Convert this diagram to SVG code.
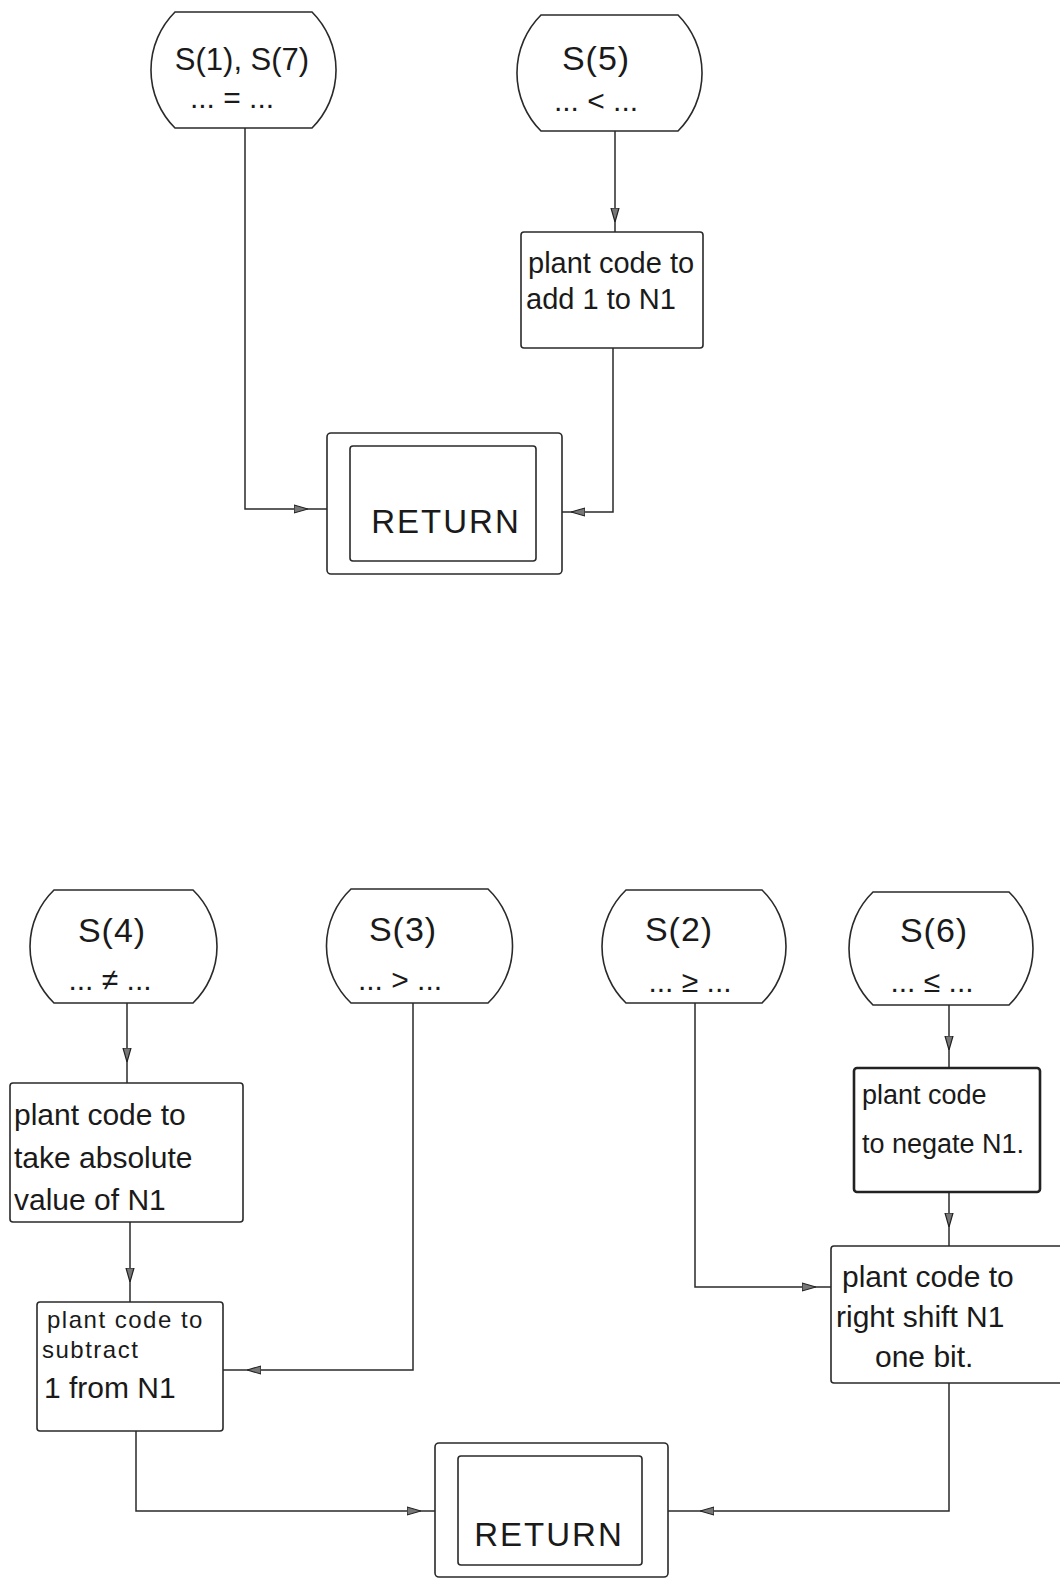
<svg xmlns="http://www.w3.org/2000/svg" width="1060" height="1580" viewBox="0 0 1060 1580">
<style>
.shape{fill:none;stroke:#2a2a2a;stroke-width:1.6}
.thick{fill:none;stroke:#222;stroke-width:2.6}
.conn{fill:none;stroke:#2a2a2a;stroke-width:1.5}
.t{font-family:"Liberation Sans","DejaVu Sans",sans-serif;fill:#1a1a1a}
.h{font-size:31px}
.n{font-size:34px;letter-spacing:1px}
.d{font-size:30px}
.b{font-size:29px}
.c{font-size:30px}
.s{font-size:27px}
.x{font-size:24px;letter-spacing:1.5px}
.r{font-size:33px;letter-spacing:2px}
</style>
<defs>
<marker id="arr" viewBox="0 0 14 10" refX="14" refY="5" markerWidth="14" markerHeight="10" markerUnits="userSpaceOnUse" orient="auto">
<path d="M0,1 L14,5 L0,9 Z" fill="#777" stroke="#222" stroke-width="1.2"/>
</marker>
</defs>
<rect width="1060" height="1580" fill="#ffffff"/>

<g id="connectors">
<path class="conn" d="M245,128 V509 H308" marker-end="url(#arr)"/>
<path class="conn" d="M308,509 H327"/>
<path class="conn" d="M615,131 V222" marker-end="url(#arr)"/>
<path class="conn" d="M615,222 V232"/>
<path class="conn" d="M613,348 V512 H571" marker-end="url(#arr)"/>
<path class="conn" d="M571,512 H562"/>

<path class="conn" d="M127,1003 V1062" marker-end="url(#arr)"/>
<path class="conn" d="M127,1062 V1083"/>
<path class="conn" d="M130,1222 V1282" marker-end="url(#arr)"/>
<path class="conn" d="M130,1282 V1302"/>
<path class="conn" d="M413,1003 V1370 H247" marker-end="url(#arr)"/>
<path class="conn" d="M247,1370 H223"/>
<path class="conn" d="M695,1003 V1287 H816" marker-end="url(#arr)"/>
<path class="conn" d="M816,1287 H831"/>
<path class="conn" d="M949,1005 V1050" marker-end="url(#arr)"/>
<path class="conn" d="M949,1050 V1068"/>
<path class="conn" d="M949,1192 V1227" marker-end="url(#arr)"/>
<path class="conn" d="M949,1227 V1246"/>
<path class="conn" d="M949,1383 V1511 H700" marker-end="url(#arr)"/>
<path class="conn" d="M700,1511 H668"/>
<path class="conn" d="M136,1431 V1511 H421" marker-end="url(#arr)"/>
<path class="conn" d="M421,1511 H435"/>
</g>

<g id="s1s7">
<path class="shape" d="M175,12 H312 A82,82 0 0 1 312,128 H175 A82,82 0 0 1 175,12 Z"/>
<text class="t h" x="242" y="70" text-anchor="middle">S(1), S(7)</text>
<text class="t d" x="232" y="108" text-anchor="middle">...  =  ...</text>
</g>

<g id="s5">
<path class="shape" d="M541,15 H678 A82,82 0 0 1 678,131 H541 A82,82 0 0 1 541,15 Z"/>
<text class="t n" x="596" y="70" text-anchor="middle">S(5)</text>
<text class="t d" x="596" y="111" text-anchor="middle">... &lt; ...</text>
</g>

<g id="add1">
<rect class="shape" x="521" y="232" width="182" height="116" rx="3"/>
<text class="t b" x="528" y="273">plant code to</text>
<text class="t b" x="526" y="309">add 1 to N1</text>
</g>

<g id="return1">
<rect class="shape" x="327" y="433" width="235" height="141" rx="4"/>
<rect class="shape" x="350" y="446" width="186" height="115" rx="3"/>
<text class="t r" x="446" y="533" text-anchor="middle">RETURN</text>
</g>

<g id="s4">
<path class="shape" d="M54,890 H193 A78.5,78.5 0 0 1 193,1003 H54 A78.5,78.5 0 0 1 54,890 Z"/>
<text class="t n" x="112" y="942" text-anchor="middle">S(4)</text>
<text class="t d" x="110" y="990" text-anchor="middle">...  ≠  ...</text>
</g>

<g id="s3">
<path class="shape" d="M351,889 H488 A78.5,78.5 0 0 1 488,1003 H351 A78.5,78.5 0 0 1 351,889 Z"/>
<text class="t n" x="403" y="941" text-anchor="middle">S(3)</text>
<text class="t d" x="400" y="990" text-anchor="middle">... &gt; ...</text>
</g>

<g id="s2">
<path class="shape" d="M626,890 H762 A78.5,78.5 0 0 1 762,1003 H626 A78.5,78.5 0 0 1 626,890 Z"/>
<text class="t n" x="679" y="941" text-anchor="middle">S(2)</text>
<text class="t d" x="690" y="992" text-anchor="middle">...  ≥  ...</text>
</g>

<g id="s6">
<path class="shape" d="M873,892 H1009 A78.5,78.5 0 0 1 1009,1005 H873 A78.5,78.5 0 0 1 873,892 Z"/>
<text class="t n" x="934" y="942" text-anchor="middle">S(6)</text>
<text class="t d" x="932" y="992" text-anchor="middle">...  ≤  ...</text>
</g>

<g id="absval">
<rect class="shape" x="10" y="1083" width="233" height="139" rx="3"/>
<text class="t c" x="14" y="1125">plant code to</text>
<text class="t c" x="14" y="1168">take absolute</text>
<text class="t c" x="14" y="1210">value of N1</text>
</g>

<g id="sub1">
<rect class="shape" x="37" y="1302" width="186" height="129" rx="3"/>
<text class="t x" x="47" y="1328">plant code to</text>
<text class="t x" x="42" y="1358">subtract</text>
<text class="t c" x="44" y="1398">1 from N1</text>
</g>

<g id="negate">
<rect class="thick" x="854" y="1068" width="186" height="124" rx="3"/>
<text class="t s" x="862" y="1104">plant code</text>
<text class="t s" x="862" y="1153">to negate N1.</text>
</g>

<g id="shift">
<rect class="shape" x="831" y="1246" width="240" height="137" rx="3"/>
<text class="t c" x="842" y="1287">plant code to</text>
<text class="t c" x="836" y="1327">right shift N1</text>
<text class="t c" x="875" y="1367">one bit.</text>
</g>

<g id="return2">
<rect class="shape" x="435" y="1443" width="233" height="134" rx="4"/>
<rect class="shape" x="458" y="1456" width="184" height="109" rx="3"/>
<text class="t r" x="549" y="1546" text-anchor="middle">RETURN</text>
</g>
</svg>
